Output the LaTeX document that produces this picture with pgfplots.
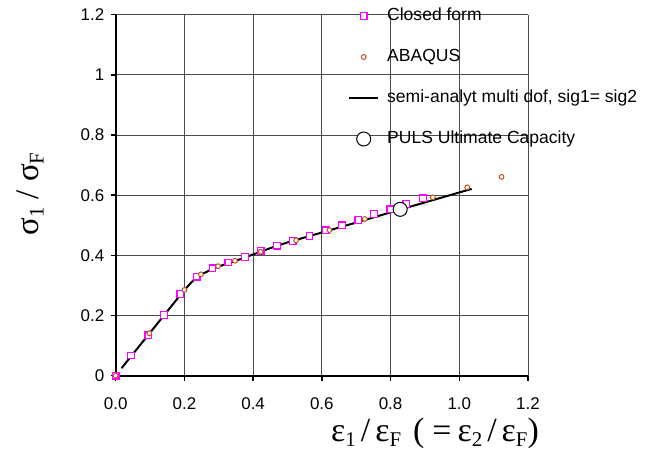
\documentclass[border=0pt]{standalone}
\usepackage{pgfplots}
\pgfplotsset{compat=1.18}
\usepackage{fontspec}
\setmainfont{Liberation Sans}
\newfontfamily\lserif{Liberation Serif}
\definecolor{abq}{RGB}{192,80,30}
\definecolor{cfm}{RGB}{255,0,255}
\newcommand\sub[1]{\raisebox{-5.5bp}{\fontsize{21}{21}\selectfont #1}}
\pgfplotsset{
  mylegmark/.style={legend image code/.code={\draw[mark repeat=2,mark phase=2,##1] plot coordinates {(0bp,0bp)(14.5bp,0bp)(29bp,0bp)};}},
}
\pgfplotstableread{
x y
0.000 0.000
0.045 0.067
0.095 0.134
0.141 0.202
0.188 0.271
0.236 0.329
0.282 0.357
0.328 0.376
0.376 0.394
0.422 0.414
0.469 0.432
0.515 0.448
0.564 0.465
0.611 0.483
0.659 0.500
0.706 0.518
0.752 0.538
0.799 0.553
0.846 0.571
0.894 0.590
}\closedform
\pgfplotstableread{
x y
0.000 0.000
0.098 0.141
0.200 0.285
0.248 0.337
0.298 0.364
0.347 0.382
0.422 0.412
0.525 0.450
0.622 0.484
0.725 0.521
0.923 0.593
1.023 0.626
1.123 0.661
}\abaqus
\pgfplotstableread{
x y
0.017 0.025
0.100 0.143
0.200 0.285
0.220 0.310
0.236 0.327
0.250 0.337
0.280 0.354
0.300 0.363
0.330 0.375
0.350 0.382
0.376 0.393
0.400 0.403
0.450 0.424
0.500 0.443
0.600 0.476
0.700 0.509
0.800 0.543
0.900 0.576
1.036 0.621
}\semi
\begin{document}
\begin{tikzpicture}
\path[use as bounding box] (0,0) rectangle (653bp,450bp);
\begin{axis}[
  at={(115.7bp,74.3bp)}, anchor=south west,
  scale only axis, width=412.3bp, height=361bp,
  xmin=0, xmax=1.2, ymin=0, ymax=1.2,
  enlargelimits=false, clip=false,
  xtick={0,0.2,...,1.2}, ytick={0,0.2,...,1.2},
  axis x line*=bottom, axis y line*=left,
  axis line style={-, black, line width=2bp},
  tick align=outside, major tick length=5bp,
  tick style={black, line width=1.5bp},
  grid=major, major grid style={black!70, line width=0.9bp},
  /pgf/number format/assume math mode=true,
  tick label style={font=\fontsize{17}{17}\selectfont},
  xticklabel style={/pgf/number format/.cd, fixed, fixed zerofill, precision=1, /tikz/.cd, yshift=-13bp},
  yticklabel style={/pgf/number format/.cd, fixed, precision=1, /tikz/.cd, xshift=-3bp},
  legend cell align=left,
  legend style={draw=none, fill=none, at={(rel axis cs:0.5634,1)}, anchor=north west, yshift=9.4bp,
    font=\fontsize{17.6}{17.6}\selectfont, inner sep=0pt, row sep=20bp,
    nodes={inner sep=2bp, text height=13bp, text depth=4bp},
    /tikz/every odd column/.append style={column sep=6bp}},
]
\addplot[black, line width=2bp, no markers, forget plot] table {\semi};
\addplot[only marks, mark=square*, mark size=3.3bp, mark options={draw=cfm, fill=white, line width=1.2bp}, mylegmark] table {\closedform};
\addlegendentry{Closed form}
\addplot[only marks, mark=*, mark size=2.4bp, mark options={draw=abq, fill=white, line width=1bp}, mylegmark] table {\abaqus};
\addlegendentry{ABAQUS}
\addlegendimage{black, line width=2bp, legend image code/.code={\draw[black, line width=2bp] (0bp,0bp) -- (29bp,0bp);}}
\addlegendentry{semi-analyt multi dof, sig1= sig2}
\addplot[only marks, mark=*, mark size=7bp, mark options={draw=black, fill=white, line width=1bp}, mylegmark] coordinates {(0.828,0.553)};
\addlegendentry{PULS Ultimate Capacity}
\end{axis}
\node[anchor=base east, inner sep=0pt] at (539bp,9bp) {\lserif\fontsize{34}{34}\selectfont ε\sub{1}\hspace{5bp}/\hspace{5bp}ε\sub{F}\hspace{12bp}(\hspace{8bp}=\hspace{6bp}ε\sub{2}\hspace{5bp}/\hspace{5bp}ε\sub{F})};
\node[rotate=90, anchor=base, inner sep=0pt] at (38bp,256bp) {\lserif\fontsize{33}{33}\selectfont σ\sub{1} / σ\sub{F}};
\end{tikzpicture}
\end{document}
